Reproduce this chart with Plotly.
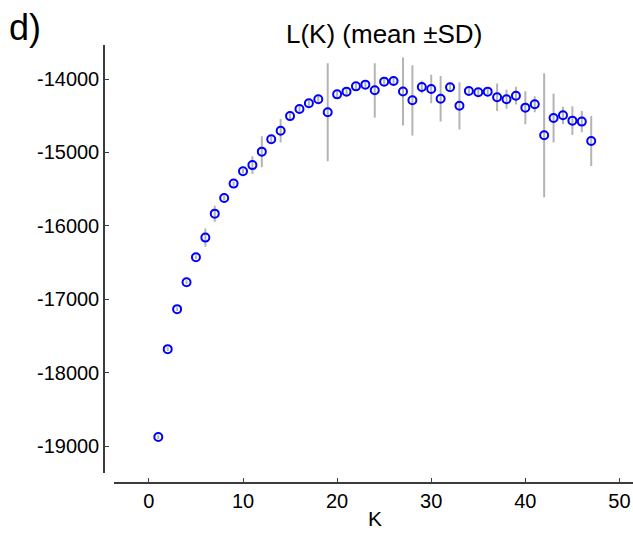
import plotly.graph_objects as go

# L(K) mean and SD for K = 1..47
k_values = list(range(1, 48))
l_mean = [
    -18875, -17678, -17133, -16766, -16426, -16159, -15833, -15619, -15424, -15256,
    -15172, -14989, -14821, -14705, -14505, -14408, -14331, -14276, -14453, -14209,
    -14172, -14100, -14077, -14154, -14036, -14027, -14170, -14290, -14109, -14136,
    -14268, -14113, -14365, -14163, -14181, -14172, -14249, -14276, -14227, -14390,
    -14344, -14766, -14531, -14494, -14567, -14580, -14844,
]
l_sd = [
    25, 25, 25, 25, 25, 125, 109, 30, 30, 30,
    120, 211, 40, 160, 40, 40, 40, 40, 667, 40,
    60, 40, 40, 370, 40, 40, 462, 478, 86, 193,
    310, 40, 322, 40, 40, 40, 188, 130, 120, 225,
    110, 843, 335, 118, 195, 145, 340,
]

x_ticks = [0, 10, 20, 30, 40, 50]
y_ticks = [-19000, -18000, -17000, -16000, -15000, -14000]
y_tick_text = ["-19000", "-18000", "-17000", "-16000", "-15000", "-14000"]

FONT = "Liberation Sans, Arial, sans-serif"
AXIS_COLOR = "#3c3c3c"

W, H = 633, 534
ML, MT, MB = 104, 45, 51
PW, PH = W - ML, H - MT - MB


def px_to_paper(x, y):
    return (x - ML) / PW, (H - MB - y) / PH


fig = go.Figure()
fig.add_trace(go.Scatter(
    x=k_values,
    y=l_mean,
    mode="markers",
    marker=dict(symbol="circle-open", size=8, color="#0000ff", line=dict(width=2, color="#0000ff")),
    error_y=dict(type="data", array=l_sd, visible=True, color="#b4b4b4", thickness=2, width=0),
    showlegend=False,
))

tx, ty = px_to_paper(384, 34)
dx, dy = px_to_paper(25, 28)
kx, ky = px_to_paper(375, 518)

fig.update_layout(
    width=W,
    height=H,
    margin=dict(l=ML, r=0, t=MT, b=MB),
    plot_bgcolor="white",
    paper_bgcolor="white",
    font=dict(family=FONT, size=20, color="black"),
    xaxis=dict(
        domain=[9.5 / PW, 1],
        range=[-3.76, 51.44],
        anchor="free",
        position=0,
        tickvals=x_ticks,
        ticks="inside",
        ticklen=4,
        tickcolor=AXIS_COLOR,
        showline=True,
        linecolor=AXIS_COLOR,
        linewidth=1.5,
        showgrid=False,
        zeroline=False,
    ),
    yaxis=dict(
        domain=[10 / PH, 1],
        range=[-19364, -13537],
        anchor="free",
        position=0,
        tickvals=y_ticks,
        ticktext=y_tick_text,
        ticks="inside",
        ticklen=4,
        tickcolor=AXIS_COLOR,
        showline=True,
        linecolor=AXIS_COLOR,
        linewidth=1.5,
        showgrid=False,
        zeroline=False,
    ),
    annotations=[
        dict(text="L(K) (mean \u00b1SD)", x=tx, y=ty, xref="paper", yref="paper",
             xanchor="center", yanchor="middle", showarrow=False, font=dict(size=26)),
        dict(text="d)", x=dx, y=dy, xref="paper", yref="paper",
             xanchor="center", yanchor="middle", showarrow=False, font=dict(size=36)),
        dict(text="K", x=kx, y=ky, xref="paper", yref="paper",
             xanchor="center", yanchor="middle", showarrow=False, font=dict(size=21)),
    ],
)

# drop the default page margin so the figure sits at the window's corner
fig.write_html(
    "out.html",
    config={"displayModeBar": False},
    post_script="document.body.style.margin='0';document.body.style.overflow='hidden';",
)
